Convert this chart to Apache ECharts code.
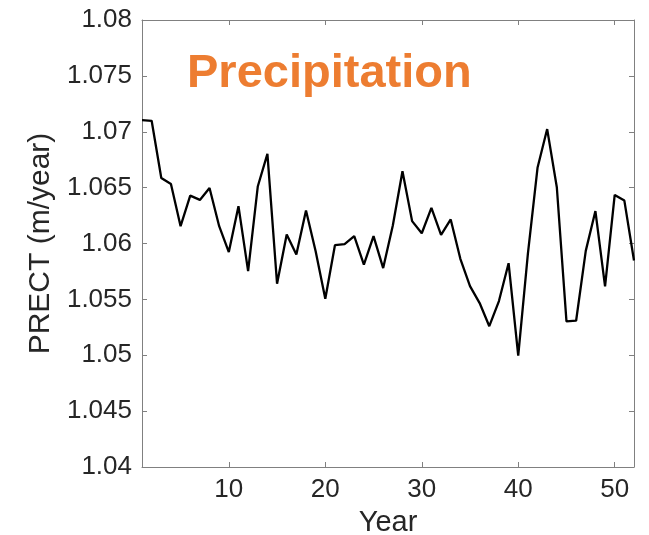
<!DOCTYPE html>
<html>
<head>
<meta charset="utf-8">
<script src="https://cdn.jsdelivr.net/npm/echarts@6/dist/echarts.min.js"></script>
<style>
  html, body { margin: 0; padding: 0; background: #ffffff; }
  #chart { width: 649px; height: 535px; }
</style>
</head>
<body>
<div id="chart"></div>
<script>
// data
const years = [];
for (let y = 1; y <= 52; y++) years.push(y);
const prect = [
  1.07104, 1.07098, 1.06586, 1.06533, 1.06155, 1.06428, 1.06390, 1.06497, 1.06155, 1.05923,
  1.06334, 1.05753, 1.06510, 1.06802, 1.05640, 1.06080, 1.05902, 1.06295, 1.05930, 1.05505,
  1.05985, 1.05994, 1.06066, 1.05812, 1.06066, 1.05780, 1.06161, 1.06647, 1.06200, 1.06092,
  1.06319, 1.06077, 1.06215, 1.05863, 1.05619, 1.05467, 1.05260, 1.05485, 1.05824, 1.04996,
  1.05908, 1.06677, 1.07024, 1.06503, 1.05303, 1.05309, 1.05934, 1.06290, 1.05616, 1.06435,
  1.06384, 1.05848
];
const xTicks = [10, 20, 30, 40, 50];
const titleText = 'Precipitation';

const axisColor = '#808080';
const textColor = '#262626';
const fontFam = '"Liberation Sans", Arial, sans-serif';

const chart = echarts.init(document.getElementById('chart'), null, { renderer: 'canvas' });

chart.setOption({
  backgroundColor: '#ffffff',
  animation: false,
  graphic: [{
    type: 'text',
    left: 187,
    top: 51,
    style: {
      text: titleText,
      fill: '#ED7D31',
      font: 'bold 47px ' + fontFam
    }
  }],
  grid: { left: 142, top: 20, right: 15, bottom: 68, outerBoundsMode: 'none', containLabel: false },
  xAxis: [{
    type: 'value',
    min: 1,
    max: 52,
    name: 'Year',
    nameLocation: 'middle',
    nameGap: 41,
    nameTextStyle: { color: textColor, fontSize: 29, fontFamily: fontFam },
    axisLine: { show: true, lineStyle: { color: axisColor, width: 1 } },
    axisTick: { show: true, inside: true, length: 5, customValues: xTicks, lineStyle: { color: axisColor } },
    axisLabel: { customValues: xTicks, color: textColor, fontSize: 26, fontFamily: fontFam, margin: 10 },
    splitLine: { show: false }
  }, {
    type: 'value',
    position: 'top',
    min: 1,
    max: 52,
    axisLine: { show: true, lineStyle: { color: axisColor, width: 1 } },
    axisTick: { show: true, inside: true, length: 5, customValues: xTicks, lineStyle: { color: axisColor } },
    axisLabel: { show: false },
    splitLine: { show: false }
  }],
  yAxis: [{
    type: 'value',
    min: 1.04,
    max: 1.08,
    interval: 0.005,
    name: 'PRECT (m/year)',
    nameLocation: 'middle',
    nameGap: 84,
    nameTextStyle: { color: textColor, fontSize: 30, fontFamily: fontFam },
    axisLine: { show: true, lineStyle: { color: axisColor, width: 1 } },
    axisTick: { show: true, inside: true, length: 5, lineStyle: { color: axisColor } },
    axisLabel: {
      color: textColor, fontSize: 26, fontFamily: fontFam, margin: 10,
      formatter: v => String(parseFloat(v.toFixed(3)))
    },
    splitLine: { show: false }
  }, {
    type: 'value',
    position: 'right',
    min: 1.04,
    max: 1.08,
    interval: 0.005,
    axisLine: { show: true, lineStyle: { color: axisColor, width: 1 } },
    axisTick: { show: true, inside: true, length: 5, lineStyle: { color: axisColor } },
    axisLabel: { show: false },
    splitLine: { show: false }
  }],
  series: [{
    type: 'line',
    xAxisIndex: 0,
    yAxisIndex: 0,
    data: years.map((y, i) => [y, prect[i]]),
    showSymbol: false,
    symbol: 'none',
    lineStyle: { color: '#000000', width: 2.3 },
    clip: true
  }]
});
</script>
</body>
</html>
